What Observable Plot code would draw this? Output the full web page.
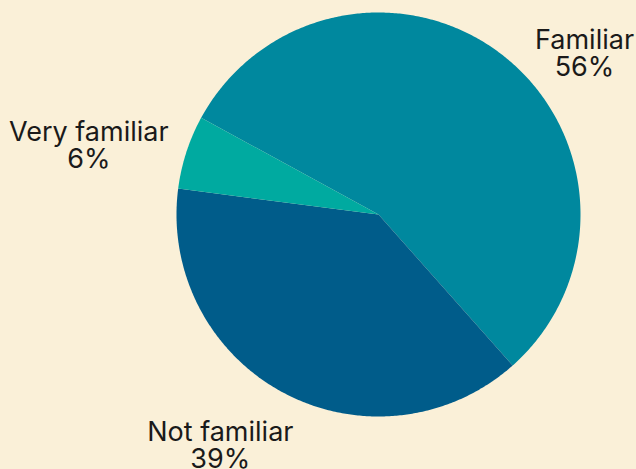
<!DOCTYPE html>
<html>
<head>
<meta charset="utf-8">
<script src="https://cdn.jsdelivr.net/npm/d3@7"></script>
<script src="https://cdn.jsdelivr.net/npm/@observablehq/plot@0.6"></script>
<style>
  html, body { margin: 0; padding: 0; background: #FAF0D8; }
  #chart svg { display: block; }
</style>
</head>
<body>
<div id="chart"></div>
<script>
// Data
const categories = ["Familiar", "Not familiar", "Very familiar"];
const shares = [55.5, 38.6, 5.9];
const startAngleDeg = -61.4; // first slice starts here, clockwise from 12 o'clock
const colors = ["#00889E", "#005C8A", "#00AAA0"];

// Build slices
const total = d3.sum(shares);
let acc = startAngleDeg;
const slices = categories.map((c, i) => {
  const a0 = acc;
  const a1 = acc + shares[i] / total * 360;
  acc = a1;
  return {category: c, share: shares[i], a0, a1, mid: (a0 + a1) / 2};
});

const rad = d => d * Math.PI / 180;
const outline = [];
for (const s of slices) {
  outline.push({category: s.category, x: 0, y: 0});
  const n = Math.max(2, Math.ceil((s.a1 - s.a0) / 0.5));
  for (let k = 0; k <= n; k++) {
    const a = rad(s.a0 + (s.a1 - s.a0) * k / n);
    outline.push({category: s.category, x: Math.sin(a), y: Math.cos(a)});
  }
  outline.push({category: s.category, x: 0, y: 0});
}

// layout (pixels)
const W = 636, H = 469, cx = 378, cy = 214, R = 202;
const labelOffsets = {
  "Familiar": [74, 5],
  "Very familiar": [-88, -3],
  "Not familiar": [-59, 44]
};

const labelMark = (s) => Plot.text([s], {
  x: d => 1.05 * Math.sin(rad(d.mid)),
  y: d => 1.05 * Math.cos(rad(d.mid)),
  text: d => `${d.category}\n${Math.round(d.share)}%`,
  textAnchor: "middle",
  lineAnchor: "middle",
  lineHeight: 1,
  fontSize: 27,
  fill: "#1a1a1a",
  dx: labelOffsets[s.category][0],
  dy: labelOffsets[s.category][1]
});

const chart = Plot.plot({
  width: W,
  height: H,
  margin: 0,
  style: {background: "#FAF0D8", fontFamily: "Inter, 'Noto Sans', sans-serif"},
  x: {domain: [(0 - cx) / R, (W - cx) / R], axis: null},
  y: {domain: [(cy - H) / R, cy / R], axis: null},
  color: {domain: categories, range: colors},
  marks: [
    Plot.line(outline, {x: "x", y: "y", z: "category", fill: "category", stroke: "none", curve: "linear"}),
    ...slices.map(labelMark)
  ]
});
document.getElementById("chart").appendChild(chart);
</script>
</body>
</html>
